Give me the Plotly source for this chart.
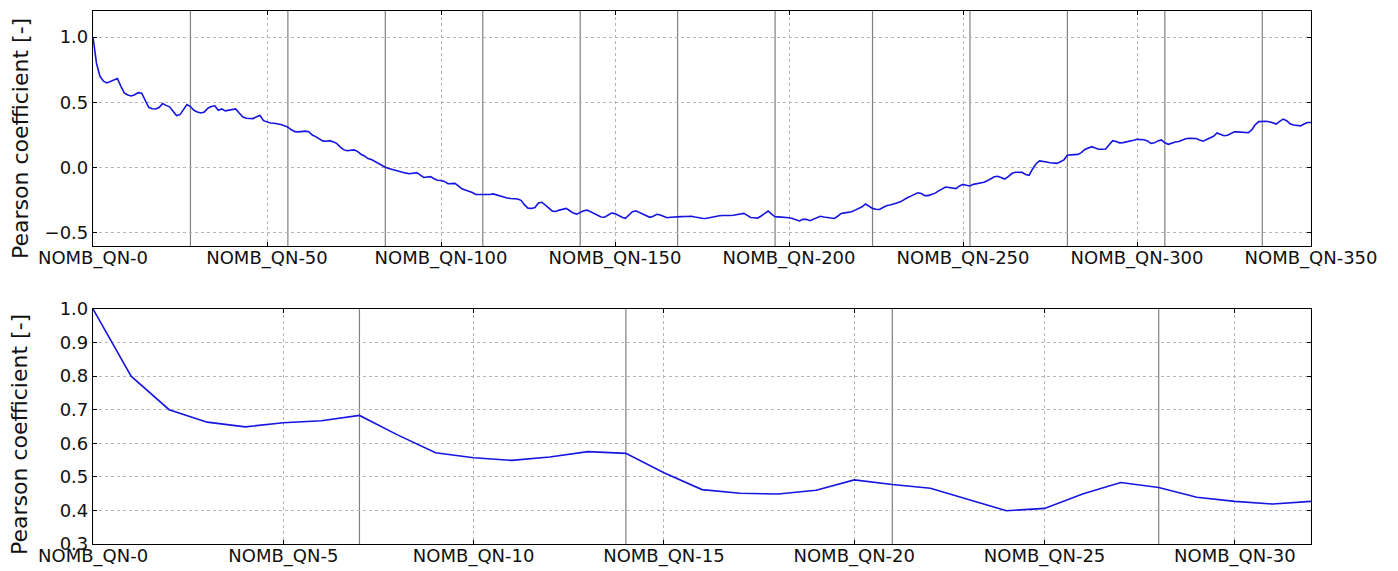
import plotly.graph_objects as go

# ---------------- data ----------------
lag_labels = [f"NOMB_QN-{i}" for i in range(351)]

pearson_all = [
    # 0-9
    1.00, 0.80, 0.70, 0.663, 0.649, 0.661, 0.667, 0.683, 0.625, 0.572,
    # 10-19
    0.557, 0.549, 0.559, 0.575, 0.570, 0.512, 0.462, 0.451, 0.449, 0.460,
    # 20-29
    0.491, 0.477, 0.466, 0.433, 0.399, 0.406, 0.449, 0.483, 0.468, 0.439,
    # 30-39
    0.427, 0.419, 0.427, 0.455, 0.468, 0.474, 0.44, 0.45, 0.435, 0.44,
    # 40-49
    0.448, 0.45, 0.418, 0.39, 0.378, 0.376, 0.376, 0.39, 0.40, 0.36,
    # 50-59
    0.35, 0.342, 0.34, 0.336, 0.33, 0.322, 0.31, 0.29, 0.276, 0.274,
    # 60-69
    0.278, 0.28, 0.275, 0.25, 0.238, 0.222, 0.205, 0.202, 0.207, 0.198,
    # 70-79
    0.186, 0.16, 0.138, 0.13, 0.132, 0.136, 0.125, 0.103, 0.09, 0.07,
    # 80-89
    0.062, 0.048, 0.035, 0.015, 0.003, -0.006, -0.014, -0.022, -0.032, -0.037,
    # 90-99
    -0.042, -0.047, -0.045, -0.038, -0.055, -0.075, -0.072, -0.069, -0.085, -0.097,
    # 100-109
    -0.098, -0.105, -0.123, -0.12, -0.12, -0.14, -0.162, -0.172, -0.179, -0.19,
    # 110-119
    -0.205, -0.205, -0.207, -0.21, -0.205, -0.201, -0.21, -0.218, -0.228, -0.232,
    # 120-129
    -0.236, -0.238, -0.24, -0.25, -0.285, -0.31, -0.312, -0.305, -0.27, -0.265,
    # 130-139
    -0.285, -0.31, -0.333, -0.336, -0.325, -0.316, -0.312, -0.33, -0.348, -0.356,
    # 140-149
    -0.342, -0.33, -0.325, -0.338, -0.346, -0.365, -0.378, -0.38, -0.36, -0.347,
    # 150-159
    -0.352, -0.368, -0.38, -0.388, -0.365, -0.338, -0.33, -0.342, -0.355, -0.368,
    # 160-169
    -0.38, -0.372, -0.357, -0.362, -0.374, -0.384, -0.38, -0.377, -0.376, -0.375,
    # 170-179
    -0.374, -0.373, -0.372, -0.378, -0.385, -0.388, -0.389, -0.384, -0.375, -0.37,
    # 180-189
    -0.368, -0.366, -0.368, -0.366, -0.364, -0.36, -0.354, -0.35, -0.365, -0.382,
    # 190-199
    -0.384, -0.386, -0.37, -0.348, -0.332, -0.355, -0.376, -0.377, -0.378, -0.38,
    # 200-209
    -0.383, -0.39, -0.40, -0.408, -0.396, -0.396, -0.406, -0.395, -0.38, -0.372,
    # 210-219
    -0.378, -0.383, -0.386, -0.389, -0.372, -0.351, -0.346, -0.341, -0.338, -0.325,
    # 220-229
    -0.312, -0.30, -0.278, -0.296, -0.312, -0.318, -0.32, -0.305, -0.292, -0.286,
    # 230-239
    -0.28, -0.27, -0.262, -0.245, -0.23, -0.218, -0.202, -0.192, -0.198, -0.214,
    # 240-249
    -0.214, -0.205, -0.195, -0.178, -0.162, -0.148, -0.152, -0.158, -0.16, -0.14,
    # 250-259
    -0.128, -0.135, -0.14, -0.128, -0.124, -0.118, -0.112, -0.10, -0.085, -0.07,
    # 260-269
    -0.066, -0.075, -0.087, -0.068, -0.045, -0.035, -0.034, -0.036, -0.052, -0.058,
    # 270-279
    -0.01, 0.03, 0.052, 0.05, 0.044, 0.038, 0.034, 0.033, 0.045, 0.06,
    # 280-289
    0.095, 0.10, 0.10, 0.102, 0.115, 0.14, 0.153, 0.161, 0.15, 0.141,
    # 290-299
    0.141, 0.143, 0.175, 0.207, 0.20, 0.19, 0.192, 0.197, 0.20, 0.21,
    # 300-309
    0.217, 0.218, 0.214, 0.205, 0.185, 0.19, 0.205, 0.213, 0.19, 0.179,
    # 310-319
    0.19, 0.197, 0.20, 0.212, 0.222, 0.225, 0.225, 0.223, 0.212, 0.203,
    # 320-329
    0.215, 0.228, 0.24, 0.266, 0.258, 0.245, 0.248, 0.262, 0.275, 0.274,
    # 330-339
    0.271, 0.27, 0.268, 0.29, 0.33, 0.353, 0.356, 0.355, 0.352, 0.34,
    # 340-350
    0.334, 0.355, 0.372, 0.36, 0.336, 0.327, 0.323, 0.32, 0.335, 0.346, 0.346,
]

zoom_count = 33
zoom_labels = lag_labels[:zoom_count]
zoom_values = pearson_all[:zoom_count]

top_tick_labels = [f"NOMB_QN-{i}" for i in range(0, 351, 50)]
bottom_tick_labels = [f"NOMB_QN-{i}" for i in range(0, 33, 5)]
top_marker_lags = [28 * k for k in range(1, 13)]
bottom_marker_lags = [7, 14, 21, 28]

y_title = "Pearson coefficient [-]"

# ---------------- figure ----------------
# page body has an 8px default margin, so the figure is laid out 8px in
OFF = 8
W, H = 1390, 563
fig = go.Figure()

fig.add_trace(go.Scatter(x=lag_labels, y=pearson_all, mode="lines",
                         line=dict(color="#1515e0", width=1.6),
                         xaxis="x", yaxis="y", showlegend=False))
fig.add_trace(go.Scatter(x=zoom_labels, y=zoom_values, mode="lines",
                         line=dict(color="#1515e0", width=1.6),
                         xaxis="x2", yaxis="y2", showlegend=False))

x_dom = [(93 - OFF) / W, (1311 - OFF) / W]
top_dom = [(H - (246 - OFF)) / H, (H - (11 - OFF)) / H]
bot_dom = [(H - (544 - OFF)) / H, (H - (309 - OFF)) / H]

tick_font = dict(family="DejaVu Sans", size=18, color="#111")
common_axis = dict(showline=True, linecolor="black", linewidth=1.2, mirror="ticks",
                   ticks="inside", ticklen=4, tickcolor="black",
                   showgrid=True, gridcolor="#b5b5b5", gridwidth=1, griddash="dot",
                   zeroline=False, automargin=False, tickfont=tick_font)

fig.update_layout(
    width=W, height=H,
    margin=dict(l=0, r=0, t=0, b=0),
    paper_bgcolor="white", plot_bgcolor="white",
    xaxis=dict(domain=x_dom, anchor="y", type="category",
               categoryorder="array", categoryarray=lag_labels,
               range=[-0.001, 350.001], tickmode="array", ticklabelstandoff=-5,
               tickvals=top_tick_labels, ticktext=top_tick_labels, **common_axis),
    yaxis=dict(domain=top_dom, anchor="x", range=[-0.6, 1.2],
               tickmode="array", tickvals=[-0.5, 0.0, 0.5, 1.0], tickformat=".1f",
               **common_axis),
    xaxis2=dict(domain=x_dom, anchor="y2", type="category",
                categoryorder="array", categoryarray=zoom_labels,
                range=[-0.001, 32.001], tickmode="array", ticklabelstandoff=-5,
                tickvals=bottom_tick_labels, ticktext=bottom_tick_labels, **common_axis),
    yaxis2=dict(domain=bot_dom, anchor="x2", range=[0.2999, 1.0001],
                tickmode="array", tickvals=[0.3, 0.4, 0.5, 0.6, 0.7, 0.8, 0.9, 1.0],
                tickformat=".1f", **common_axis),
)

for lag in top_marker_lags:
    fig.add_shape(type="line", xref="x", yref="y domain", x0=lag, x1=lag, y0=0, y1=1,
                  line=dict(color="#808080", width=1.2), layer="below")
for lag in bottom_marker_lags:
    fig.add_shape(type="line", xref="x2", yref="y2 domain", x0=lag, x1=lag, y0=0, y1=1,
                  line=dict(color="#808080", width=1.2), layer="below")

# y-axis titles (window pixel centres)
title_font = dict(family="DejaVu Sans", size=22, color="#111")
for centre_px in (139, 435):
    fig.add_annotation(text=y_title, textangle=-90, xref="paper", yref="paper",
                       x=(20 - OFF) / W, y=(H - (centre_px - OFF)) / H,
                       xanchor="center", yanchor="middle",
                       showarrow=False, font=title_font)

fig.write_html("out.html")
